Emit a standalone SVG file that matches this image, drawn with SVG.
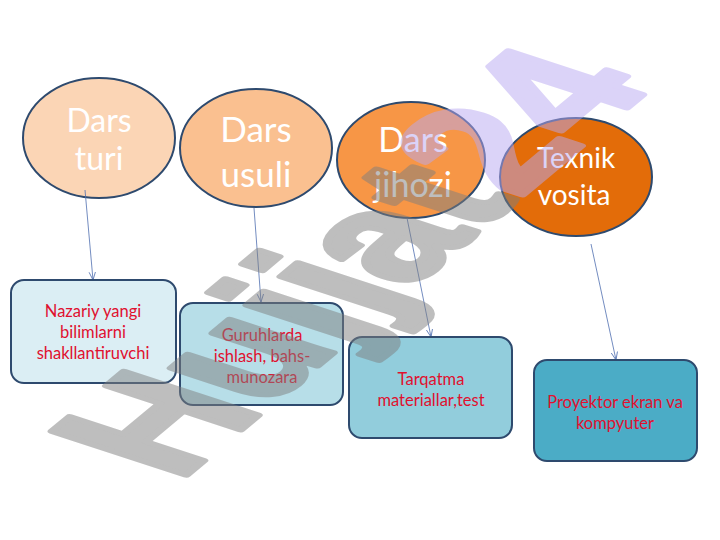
<svg xmlns="http://www.w3.org/2000/svg" width="720" height="540" viewBox="0 0 720 540">
<style>
.ell{stroke:#2E4A6E;stroke-width:2}
.box{stroke:#2E4A6E;stroke-width:2}
.ct{font-family:Lato,"Open Sans",sans-serif;fill:#FFFFFF;text-anchor:middle}
.bt{font-family:Lato,"Open Sans",sans-serif;font-size:16.5px;fill:#E0102F;text-anchor:middle}
.con{stroke:#4F6FB0;stroke-width:0.8;fill:none;marker-end:url(#arr)}
.wm{font-family:"Liberation Sans",Arial,sans-serif;font-weight:bold;font-size:100px;stroke-width:4;stroke-linejoin:round}
</style>
<defs>
<marker id="arr" viewBox="0 0 10 10" refX="10" refY="5" markerWidth="8" markerHeight="8" markerUnits="userSpaceOnUse" orient="auto">
<path d="M0,1 L10,5 L0,9" fill="none" stroke="#4F6FB0" stroke-width="1"/>
</marker>
</defs>
<rect width="720" height="540" fill="#FFFFFF"/>
<g id="n1"><ellipse class="ell" cx="99" cy="138" rx="76" ry="60" fill="#FBD5B5"/>
<text class="ct" font-size="32" x="99" y="132">Dars</text><text class="ct" font-size="32" x="99" y="170">turi</text></g>
<g id="n2"><ellipse class="ell" cx="256" cy="148" rx="76" ry="59" fill="#FAC090"/>
<text class="ct" font-size="35" x="256" y="142">Dars</text><text class="ct" font-size="35" x="256" y="187">usuli</text></g>
<g id="n3"><ellipse class="ell" cx="411" cy="160" rx="74" ry="58" fill="#F79646"/>
<text class="ct" font-size="34" x="413" y="152">Dars</text><text class="ct" font-size="34" x="413" y="197">jihozi</text></g>
<g id="n4"><ellipse class="ell" cx="576" cy="177" rx="76" ry="59" fill="#E36C09"/>
<text class="ct" font-size="28" x="576" y="168">Texnik</text><text class="ct" font-size="28" x="574" y="205">vosita</text></g>
<g id="connectors">
<line class="con" x1="85" y1="190" x2="93" y2="280"/>
<line class="con" x1="254" y1="208" x2="261" y2="302"/>
<line class="con" x1="407" y1="218" x2="431" y2="337"/>
<line class="con" x1="591" y1="244" x2="616" y2="360"/>
</g>
<g id="b1"><rect class="box" x="11" y="280" width="165" height="103" rx="13" fill="#DBEEF4"/>
<text class="bt" x="93" y="317">Nazariy yangi</text><text class="bt" x="93" y="338">bilimlarni</text><text class="bt" x="93" y="359">shakllantiruvchi</text></g>
<g id="b2"><rect class="box" x="180" y="303" width="163" height="102" rx="13" fill="#B7DEE8"/>
<text class="bt" x="262" y="341">Guruhlarda</text><text class="bt" x="262" y="362">ishlash, bahs-</text><text class="bt" x="262" y="383">munozara</text></g>
<g id="b3"><rect class="box" x="349" y="337" width="163" height="101" rx="13" fill="#92CDDC"/>
<text class="bt" x="431" y="385">Tarqatma</text><text class="bt" x="431" y="406">materiallar,test</text></g>
<g id="b4"><rect class="box" x="534" y="360" width="163" height="101" rx="13" fill="#4BACC6"/>
<text class="bt" x="615" y="408">Proyektor ekran va</text><text class="bt" x="615" y="429">kompyuter</text></g>
<g id="watermark" opacity="0.5" transform="matrix(1.225,-1.021,1.95,0.636,178,482)">
<text class="wm" x="0" y="0"><tspan fill="#7F7F7F" stroke="#7F7F7F">Hujjat</tspan><tspan fill="#B9A8F2" stroke="#B9A8F2">24</tspan></text>
</g>
</svg>
